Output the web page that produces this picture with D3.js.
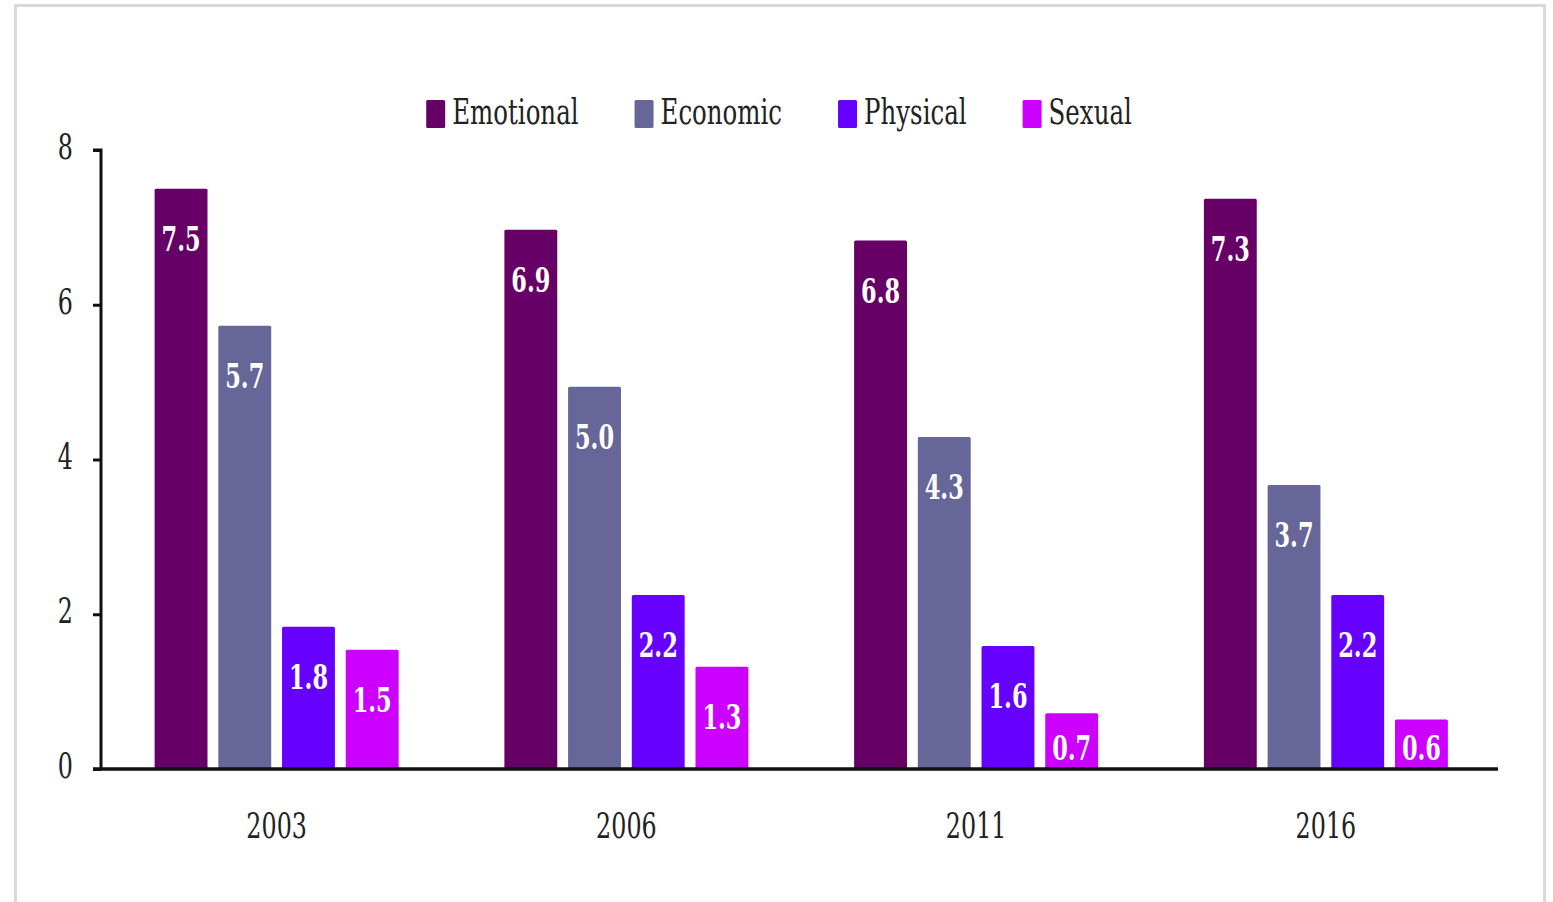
<!DOCTYPE html>
<html>
<head>
<meta charset="utf-8">
<script src="https://cdn.jsdelivr.net/npm/d3@7"></script>
<style>
  html, body { margin: 0; padding: 0; background: #fff; }
  svg { display: block; }
  text { font-family: "DejaVu Serif", serif; }
</style>
</head>
<body>
<svg id="chart" width="1553" height="902"></svg>
<script>
const years = ["2003", "2006", "2011", "2016"];
const seriesNames = ["Emotional", "Economic", "Physical", "Sexual"];
// bar heights
const emotional = [7.50, 6.97, 6.83, 7.37];
const economic = [5.73, 4.94, 4.29, 3.67];
const physical = [1.84, 2.25, 1.59, 2.25];
const sexual = [1.54, 1.32, 0.72, 0.64];
// printed value labels
const emotionalLabels = ["7.5", "6.9", "6.8", "7.3"];
const economicLabels = ["5.7", "5.0", "4.3", "3.7"];
const physicalLabels = ["1.8", "2.2", "1.6", "2.2"];
const sexualLabels = ["1.5", "1.3", "0.7", "0.6"];
const yTicks = [0, 2, 4, 6, 8];
const colors = ["#660066", "#666699", "#6600ff", "#cc00ff"];

const seriesValues = [emotional, economic, physical, sexual];
const seriesLabels = [emotionalLabels, economicLabels, physicalLabels, sexualLabels];
const data = years.map((yr, i) => ({
  year: yr,
  values: seriesNames.map((s, j) => ({ key: s, value: seriesValues[j][i], label: seriesLabels[j][i] }))
}));

const SX = 0.68; // horizontal squish of the reference image
const svg = d3.select("#chart");

// outer frame
svg.append("rect")
  .attr("x", 15.5).attr("y", 5.5)
  .attr("width", 1529).attr("height", 920)
  .attr("fill", "none").attr("stroke", "#d9d9d9").attr("stroke-width", 3);

const pLeft = 101, pRight = 1498, pTop = 150, pBottom = 769;

const x0 = d3.scaleBand().domain(years).range([pLeft, pRight]).padding(0);
const groupW = x0.bandwidth();
const x1 = d3.scaleBand().domain(seriesNames)
  .range([groupW / 2 - 121, groupW / 2 + 123]).paddingInner(0.17).paddingOuter(0);
const y = d3.scaleLinear().domain([0, 8]).range([pBottom, pTop]);
const color = d3.scaleOrdinal().domain(seriesNames).range(colors);

function sText(g, x, yy, txt, opts) {
  return g.append("text")
    .attr("transform", `translate(${x},${yy}) scale(${SX},1)`)
    .attr("text-anchor", opts.anchor || "middle")
    .attr("font-size", opts.size)
    .attr("font-weight", opts.weight || "normal")
    .attr("fill", opts.fill || "#1a1a1a")
    .text(txt);
}

// bars
const groups = svg.append("g").selectAll("g").data(data).join("g")
  .attr("transform", (d, i) => `translate(${x0(d.year) + i * 0.5},0)`);

groups.selectAll("rect").data(d => d.values).join("rect")
  .attr("x", d => x1(d.key))
  .attr("y", d => y(d.value))
  .attr("width", x1.bandwidth())
  .attr("height", d => y(0) - y(d.value))
  .attr("rx", 1.5)
  .attr("fill", d => color(d.key));

// value labels
groups.each(function(d) {
  const g = d3.select(this);
  d.values.forEach(v => {
    const cy = Math.min(y(v.value) + 50, 748);
    sText(g, x1(v.key) + x1.bandwidth() / 2, cy + 12, v.label,
      { size: 33, weight: "bold", fill: "#ffffff" });
  });
});

// y axis
const yAxis = svg.append("g")
  .attr("transform", `translate(${pLeft},0)`)
  .call(d3.axisLeft(y).tickValues(yTicks).tickSize(8).tickFormat(""));
yAxis.select(".domain").attr("stroke", "#111").attr("stroke-width", 3)
  .attr("d", `M-8,${pTop}H0V${pBottom}`);
yAxis.selectAll(".tick line").attr("stroke", "#111").attr("stroke-width", 3);
yTicks.forEach(t => {
  sText(svg, 73, y(t) + 9, String(t), { size: 35, anchor: "end", fill: "#222" });
});

// x axis
const xAxis = svg.append("g")
  .attr("transform", `translate(0,${pBottom})`)
  .call(d3.axisBottom(x0).tickSize(0).tickFormat(""));
xAxis.select(".domain").attr("stroke", "#111").attr("stroke-width", 3.5)
  .attr("d", `M${pLeft - 8},0H${pRight}`);
years.forEach((yr, i) => {
  sText(svg, x0(yr) + groupW / 2 + 1 + i * 0.5, 838, yr, { size: 35, fill: "#222" });
});

// legend
const legend = svg.append("g");
let lx = 0;
seriesNames.forEach((s, i) => {
  const it = legend.append("g");
  it.append("rect").attr("x", 0).attr("y", 100).attr("width", 19).attr("height", 28)
    .attr("rx", 1.5).attr("fill", color(s));
  const t = sText(it, 26, 124, s, { size: 36, anchor: "start", fill: "#222" });
  const w = t.node().getComputedTextLength() * SX;
  it.attr("transform", `translate(${lx},0)`);
  lx += 26 + w + 56;
});
const legendW = lx - 56;
legend.attr("transform", `translate(${779 - legendW / 2},0)`);
</script>
</body>
</html>
